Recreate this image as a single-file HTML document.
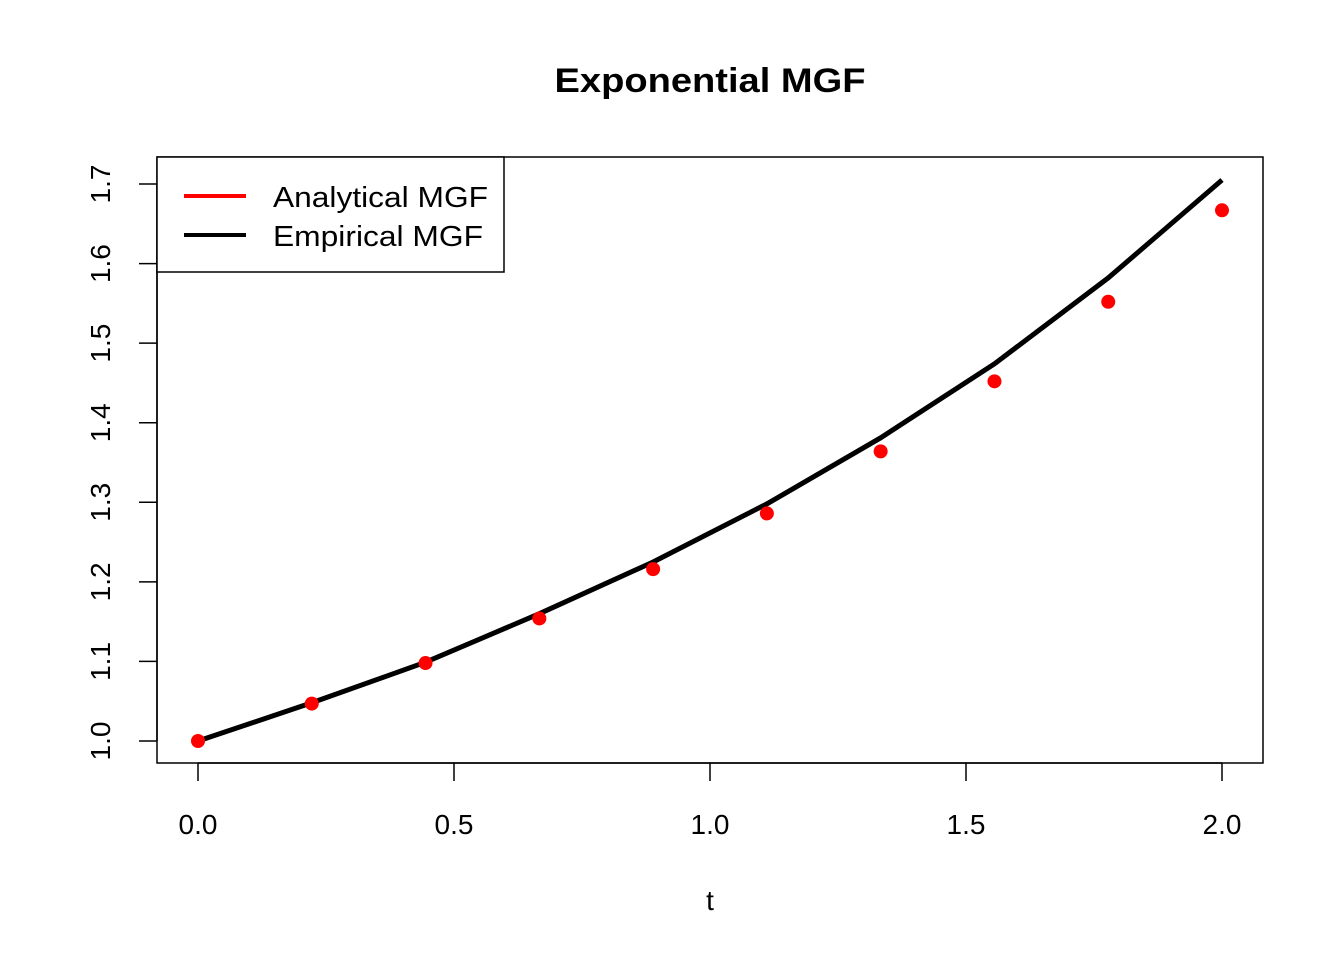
<!DOCTYPE html>
<html><head><meta charset="utf-8"><style>
body{margin:0;background:#fff}
svg text{font-family:"Liberation Sans",Arial,sans-serif}
</style></head><body>
<svg id="chart" width="1344" height="960">
<text x="710" y="92" font-size="34" font-weight="bold" text-anchor="middle" textLength="311" lengthAdjust="spacingAndGlyphs">Exponential MGF</text>
<rect x="157" y="157" width="1106" height="606" fill="none" stroke="#000" stroke-width="1.5"/>
<g id="xaxis"></g>
<g id="yaxis"></g>
<text x="710" y="910" font-size="28" text-anchor="middle">t</text>
<g id="series"></g>
<g>
<rect x="157" y="157" width="347" height="115" fill="#fff" stroke="#000" stroke-width="1.5"/>
<line x1="184" y1="196" x2="246" y2="196" stroke="#ff0000" stroke-width="4"/>
<text x="273" y="207" font-size="29" textLength="215" lengthAdjust="spacingAndGlyphs">Analytical MGF</text>
<line x1="184" y1="235" x2="246" y2="235" stroke="#000" stroke-width="4"/>
<text x="273" y="246" font-size="29" textLength="210" lengthAdjust="spacingAndGlyphs">Empirical MGF</text>
</g>
</svg>
<script>
const tValues=[0,0.2222,0.4444,0.6667,0.8889,1.1111,1.3333,1.5556,1.7778,2.0];
const analytical=[1.0,1.047,1.098,1.154,1.216,1.286,1.364,1.452,1.552,1.667];
const empirical=[1.0,1.048,1.099,1.160,1.225,1.298,1.381,1.474,1.582,1.705];
const xTicks=["0.0","0.5","1.0","1.5","2.0"];
const yTicks=["1.0","1.1","1.2","1.3","1.4","1.5","1.6","1.7"];
const NS="http://www.w3.org/2000/svg";
const X=v=>198+v*512;
const Y=v=>741-(v-1)*795.7;
function mk(tag,attrs,parent){const e=document.createElementNS(NS,tag);for(const k in attrs)e.setAttribute(k,attrs[k]);parent.appendChild(e);return e;}
const xa=document.getElementById('xaxis'),ya=document.getElementById('yaxis'),sg=document.getElementById('series');
mk('line',{x1:X(0),x2:X(2),y1:763,y2:763,stroke:'#000','stroke-width':1.5},xa);
xTicks.forEach(s=>{const v=parseFloat(s);
 const l=mk('line',{x1:X(v),x2:X(v),y1:763,y2:781,stroke:'#000','stroke-width':1.5},xa);
 
 
 const t=mk('text',{x:X(v),y:834,'font-size':28,'text-anchor':'middle'},xa);t.textContent=s;
 
 });
mk('line',{x1:157,x2:157,y1:Y(1),y2:Y(1.7),stroke:'#000','stroke-width':1.5},ya);
yTicks.forEach(s=>{const v=parseFloat(s);
 const l=mk('line',{x1:139,x2:157,y1:Y(v),y2:Y(v),stroke:'#000','stroke-width':1.5},ya);
 
 
 const t=mk('text',{x:0,y:0,'font-size':28,'text-anchor':'middle',transform:`translate(110,${Y(v)}) rotate(-90)`},ya);t.textContent=s;
 
 });
const pl=mk('polyline',{points:tValues.map((t,i)=>X(t)+','+Y(empirical[i])).join(' '),fill:'none',stroke:'#000','stroke-width':5},sg);


tValues.forEach((t,i)=>{const c=mk('circle',{cx:X(t),cy:Y(analytical[i]),r:7,fill:'#ff0000'},sg);
 
 });
</script>
</body></html>
